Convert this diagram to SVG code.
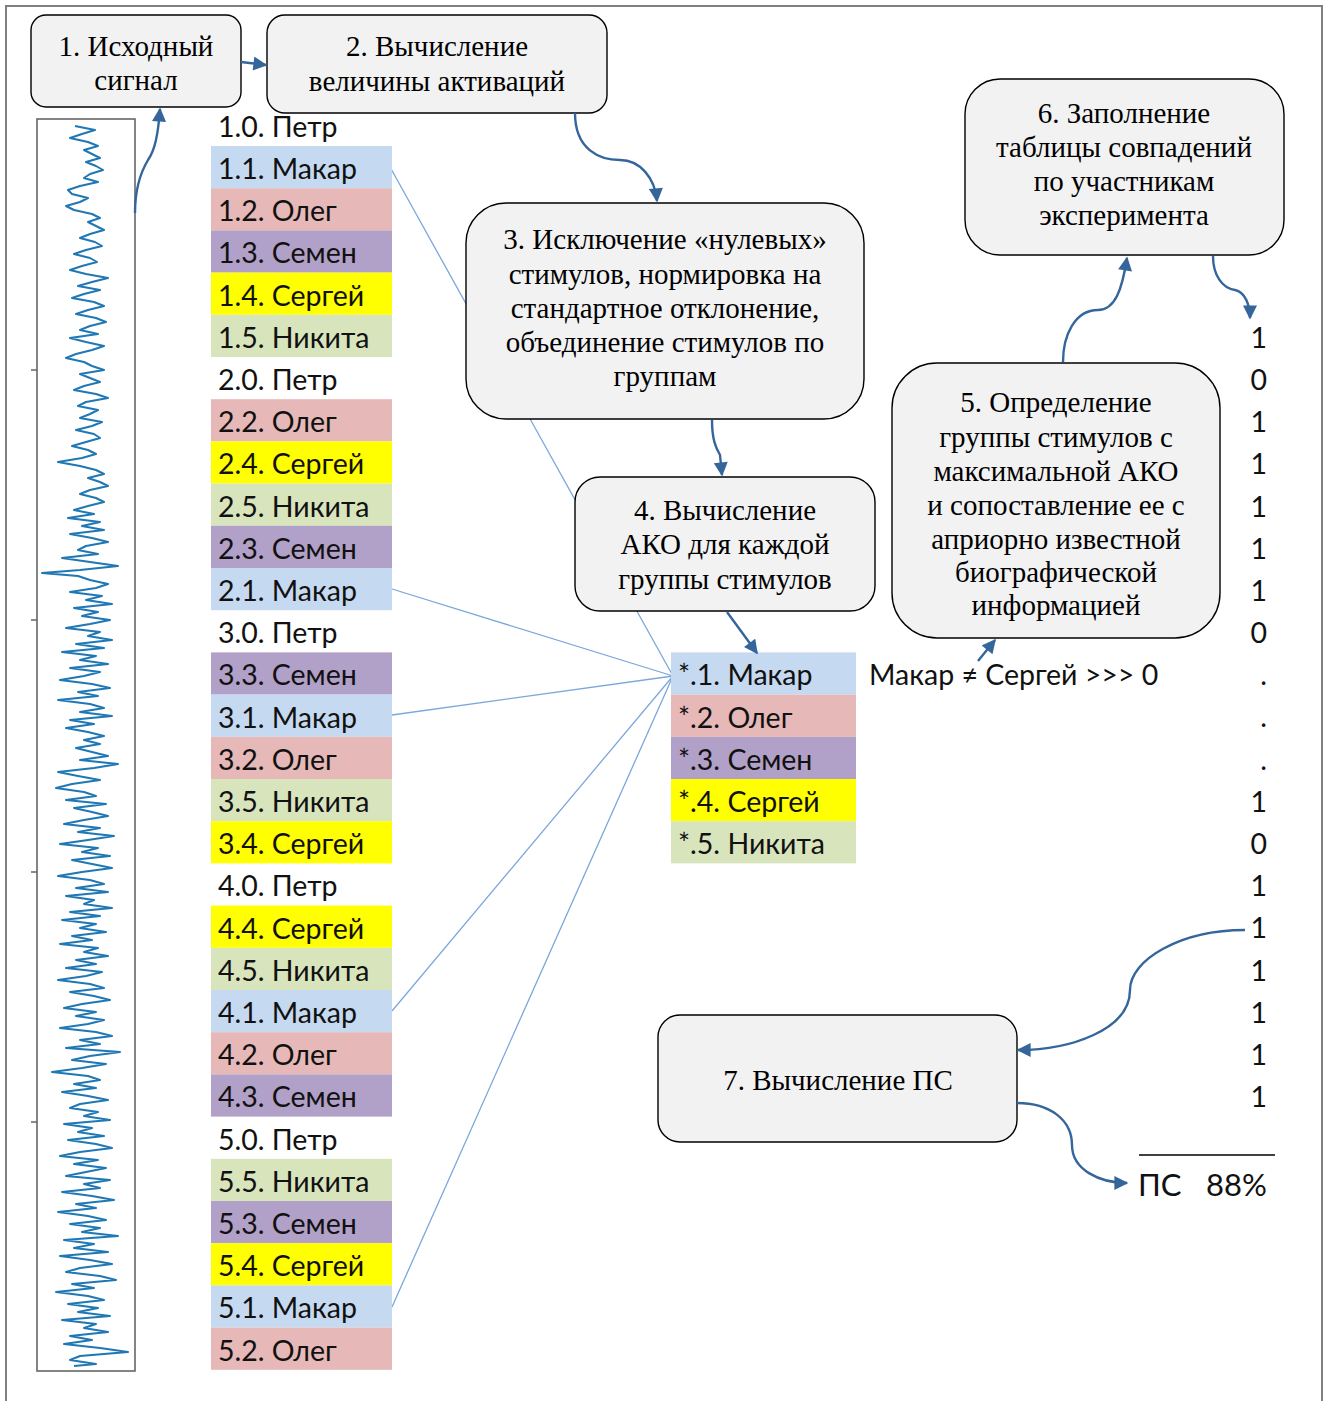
<svg xmlns="http://www.w3.org/2000/svg" width="1330" height="1401" viewBox="0 0 1330 1401">
<style>
.box{fill:#f2f2f2;stroke:#000;stroke-width:1.4}
.bt{font-family:"Liberation Serif","Times New Roman",serif;font-size:29px;fill:#000;text-anchor:middle}
.lt{font-family:Lato,"Open Sans","Noto Sans",sans-serif;font-size:28.5px;fill:#111}
.arr{fill:none;stroke:#34659b;stroke-width:2.4;marker-end:url(#ah)}
.thin{stroke:#7ba7dc;stroke-width:1.3;fill:none}
.mk{fill:#c5d9f1}.ol{fill:#e6b8b7}.se{fill:#b1a0c7}.sg{fill:#ffff00}.ni{fill:#d8e4bc}
</style>
<defs>
<marker id="ah" viewBox="0 0 10 10" refX="9" refY="5" markerUnits="userSpaceOnUse" markerWidth="15" markerHeight="14" orient="auto">
<path d="M0,0 L10,5 L0,10 z" fill="#34659b"/>
</marker>
</defs>
<rect x="0" y="0" width="1330" height="1401" fill="#fff"/>
<path d="M6,1401 V6 H1322 V1401" fill="none" stroke="#808080" stroke-width="2"/>

<g id="signal">
<rect x="37" y="119" width="98" height="1252" fill="none" stroke="#666" stroke-width="1.6"/>
<path d="M31,370 H37 M31,620 H37 M31,872 H37 M31,1122 H37" stroke="#666" stroke-width="1.6"/>
<polyline fill="none" stroke="#1f77b4" stroke-width="2" stroke-linejoin="round" points="75,126 95,130 82,134 70,138 88,142 98,146 84,150 92,154 100,158 86,162 96,166 103,170 90,174 84,178 98,182 80,186 68,190 72,194 88,198 80,202 66,206 74,210 92,214 100,218 88,222 96,226 104,230 90,234 80,238 95,242 102,246 86,250 74,254 90,258 97,262 82,266 70,270 86,274 108,278 92,282 78,286 100,290 84,294 72,298 94,302 104,306 88,310 76,314 96,318 106,322 90,326 80,330 98,334 70,338 86,342 104,346 92,350 76,354 66,358 84,362 92,366 104,370 80,374 90,378 100,382 84,386 74,390 96,394 108,398 86,402 78,406 98,410 90,414 80,418 102,422 92,426 76,430 94,434 100,438 86,442 72,446 88,450 96,454 82,458 58,462 80,466 96,470 104,474 88,478 100,482 108,486 90,490 80,494 96,498 104,502 88,506 74,510 94,514 68,518 100,522 82,526 104,530 70,534 92,538 108,542 86,546 78,550 98,554 62,558 90,562 118,566 80,570 42,573 78,576 90,580 108,584 96,588 70,592 102,596 86,600 112,604 74,608 98,612 82,616 110,620 90,624 66,628 100,632 88,636 112,640 76,644 104,648 62,652 96,656 80,660 108,664 70,668 100,672 84,676 60,680 92,684 110,688 78,692 98,696 58,700 90,704 104,708 80,712 112,716 70,720 94,724 66,728 88,732 104,736 84,740 100,744 76,748 92,752 108,756 80,760 118,764 94,768 58,772 78,776 100,780 72,784 56,788 84,792 96,796 66,800 106,804 74,808 92,812 108,816 84,820 64,824 100,828 78,832 114,836 88,840 60,844 98,848 82,852 110,856 72,860 92,864 112,868 82,872 58,876 90,880 104,884 76,888 108,892 66,896 94,900 84,904 112,908 70,912 100,916 62,920 96,924 80,928 106,932 72,936 92,940 60,944 98,948 84,952 108,956 76,960 96,964 66,968 102,972 86,976 58,980 90,984 104,988 70,992 94,996 110,1000 82,1004 64,1008 96,1012 76,1016 104,1020 88,1024 60,1028 96,1032 112,1036 80,1040 100,1044 66,1048 120,1052 90,1056 72,1060 106,1064 82,1068 52,1072 88,1076 100,1080 74,1084 96,1088 62,1092 88,1096 108,1100 80,1104 70,1108 98,1112 84,1116 110,1120 64,1124 92,1128 78,1132 104,1136 68,1140 96,1144 112,1148 80,1152 60,1156 98,1160 74,1164 106,1168 86,1172 66,1176 110,1180 84,1184 100,1188 62,1192 92,1196 114,1200 76,1204 96,1208 58,1212 88,1216 106,1220 70,1224 100,1228 82,1232 118,1236 64,1240 94,1244 74,1248 108,1252 60,1256 90,1260 112,1264 80,1268 66,1272 100,1276 116,1280 72,1284 94,1288 56,1292 88,1296 104,1300 68,1304 98,1308 78,1312 110,1316 62,1320 96,1324 84,1328 108,1332 70,1336 92,1340 64,1344 100,1348 128,1352 80,1356 70,1360 96,1364 74,1366"/>
</g>

<g id="connectors-thin">
<path class="thin" d="M390,167 L673,676 M392,589 L673,676 M392,715 L673,676 M392,1011 L673,676 M392,1307 L673,676"/>
</g>

<g id="list">
<text class="lt" x="218" y="137">1.0. Петр</text>
<rect class="mk" x="211" y="146" width="181" height="42.2"/><text class="lt" x="218" y="179">1.1. Макар</text>
<rect class="ol" x="211" y="188.2" width="181" height="42.2"/><text class="lt" x="218" y="221.2">1.2. Олег</text>
<rect class="se" x="211" y="230.4" width="181" height="42.2"/><text class="lt" x="218" y="263.4">1.3. Семен</text>
<rect class="sg" x="211" y="272.6" width="181" height="42.2"/><text class="lt" x="218" y="305.6">1.4. Сергей</text>
<rect class="ni" x="211" y="314.8" width="181" height="42.2"/><text class="lt" x="218" y="347.8">1.5. Никита</text>
<text class="lt" x="218" y="390">2.0. Петр</text>
<rect class="ol" x="211" y="399.2" width="181" height="42.2"/><text class="lt" x="218" y="432.2">2.2. Олег</text>
<rect class="sg" x="211" y="441.4" width="181" height="42.2"/><text class="lt" x="218" y="474.4">2.4. Сергей</text>
<rect class="ni" x="211" y="483.6" width="181" height="42.2"/><text class="lt" x="218" y="516.6">2.5. Никита</text>
<rect class="se" x="211" y="525.8" width="181" height="42.2"/><text class="lt" x="218" y="558.8">2.3. Семен</text>
<rect class="mk" x="211" y="568" width="181" height="42.2"/><text class="lt" x="218" y="601">2.1. Макар</text>
<text class="lt" x="218" y="643.2">3.0. Петр</text>
<rect class="se" x="211" y="652.4" width="181" height="42.2"/><text class="lt" x="218" y="685.4">3.3. Семен</text>
<rect class="mk" x="211" y="694.6" width="181" height="42.2"/><text class="lt" x="218" y="727.6">3.1. Макар</text>
<rect class="ol" x="211" y="736.8" width="181" height="42.2"/><text class="lt" x="218" y="769.8">3.2. Олег</text>
<rect class="ni" x="211" y="779" width="181" height="42.2"/><text class="lt" x="218" y="812">3.5. Никита</text>
<rect class="sg" x="211" y="821.2" width="181" height="42.2"/><text class="lt" x="218" y="854.2">3.4. Сергей</text>
<text class="lt" x="218" y="896.4">4.0. Петр</text>
<rect class="sg" x="211" y="905.6" width="181" height="42.2"/><text class="lt" x="218" y="938.6">4.4. Сергей</text>
<rect class="ni" x="211" y="947.8" width="181" height="42.2"/><text class="lt" x="218" y="980.8">4.5. Никита</text>
<rect class="mk" x="211" y="990" width="181" height="42.2"/><text class="lt" x="218" y="1023">4.1. Макар</text>
<rect class="ol" x="211" y="1032.2" width="181" height="42.2"/><text class="lt" x="218" y="1065.2">4.2. Олег</text>
<rect class="se" x="211" y="1074.4" width="181" height="42.2"/><text class="lt" x="218" y="1107.4">4.3. Семен</text>
<text class="lt" x="218" y="1149.6">5.0. Петр</text>
<rect class="ni" x="211" y="1158.8" width="181" height="42.2"/><text class="lt" x="218" y="1191.8">5.5. Никита</text>
<rect class="se" x="211" y="1201" width="181" height="42.2"/><text class="lt" x="218" y="1234">5.3. Семен</text>
<rect class="sg" x="211" y="1243.2" width="181" height="42.2"/><text class="lt" x="218" y="1276.2">5.4. Сергей</text>
<rect class="mk" x="211" y="1285.4" width="181" height="42.2"/><text class="lt" x="218" y="1318.4">5.1. Макар</text>
<rect class="ol" x="211" y="1327.6" width="181" height="42.2"/><text class="lt" x="218" y="1360.6">5.2. Олег</text>
</g>

<g id="star-list">
<rect class="mk" x="671" y="652.4" width="185" height="42.2"/><text class="lt" x="678" y="685.4">*.1. Макар</text>
<rect class="ol" x="671" y="694.6" width="185" height="42.2"/><text class="lt" x="678" y="727.6">*.2. Олег</text>
<rect class="se" x="671" y="736.8" width="185" height="42.2"/><text class="lt" x="678" y="769.8">*.3. Семен</text>
<rect class="sg" x="671" y="779" width="185" height="42.2"/><text class="lt" x="678" y="812">*.4. Сергей</text>
<rect class="ni" x="671" y="821.2" width="185" height="42.2"/><text class="lt" x="678" y="854.2">*.5. Никита</text>
</g>

<g id="compare-label">
<text class="lt" x="869" y="685">Макар ≠ Сергей &gt;&gt;&gt; 0</text>
</g>

<g id="column">
<text class="lt" x="1267" y="348" text-anchor="end">1</text>
<text class="lt" x="1267" y="390" text-anchor="end">0</text>
<text class="lt" x="1267" y="432" text-anchor="end">1</text>
<text class="lt" x="1267" y="474" text-anchor="end">1</text>
<text class="lt" x="1267" y="517" text-anchor="end">1</text>
<text class="lt" x="1267" y="559" text-anchor="end">1</text>
<text class="lt" x="1267" y="601" text-anchor="end">1</text>
<text class="lt" x="1267" y="643" text-anchor="end">0</text>
<text class="lt" x="1267" y="685" text-anchor="end">.</text>
<text class="lt" x="1267" y="727" text-anchor="end">.</text>
<text class="lt" x="1267" y="770" text-anchor="end">.</text>
<text class="lt" x="1267" y="812" text-anchor="end">1</text>
<text class="lt" x="1267" y="854" text-anchor="end">0</text>
<text class="lt" x="1267" y="896" text-anchor="end">1</text>
<text class="lt" x="1267" y="938" text-anchor="end">1</text>
<text class="lt" x="1267" y="981" text-anchor="end">1</text>
<text class="lt" x="1267" y="1023" text-anchor="end">1</text>
<text class="lt" x="1267" y="1065" text-anchor="end">1</text>
<text class="lt" x="1267" y="1107" text-anchor="end">1</text>
</g>

<g id="result">
<path d="M1139,1155 H1275" stroke="#000" stroke-width="1.6"/>
<text class="lt" x="1138" y="1196" style="font-size:31px">ПС</text>
<text class="lt" x="1206" y="1196" style="font-size:31px">88%</text>
</g>

<g id="node1">
<rect class="box" x="31" y="15" width="210" height="92" rx="15"/>
<text class="bt" x="136" y="56">1. Исходный</text>
<text class="bt" x="136" y="90">сигнал</text>
</g>
<g id="node2">
<rect class="box" x="267" y="15" width="340" height="98" rx="18"/>
<text class="bt" x="437" y="56">2. Вычисление</text>
<text class="bt" x="437" y="91">величины активаций</text>
</g>
<g id="node3">
<rect class="box" x="466" y="203" width="398" height="216" rx="40"/>
<text class="bt" x="665" y="249">3. Исключение «нулевых»</text>
<text class="bt" x="665" y="284">стимулов, нормировка на</text>
<text class="bt" x="665" y="318">стандартное отклонение,</text>
<text class="bt" x="665" y="352">объединение стимулов по</text>
<text class="bt" x="665" y="386">группам</text>
</g>
<g id="node4">
<rect class="box" x="575" y="477" width="300" height="134" rx="25"/>
<text class="bt" x="725" y="520">4. Вычисление</text>
<text class="bt" x="725" y="554">АКО для каждой</text>
<text class="bt" x="725" y="589">группы стимулов</text>
</g>
<g id="node5">
<rect class="box" x="892" y="363" width="328" height="275" rx="45"/>
<text class="bt" x="1056" y="412">5. Определение</text>
<text class="bt" x="1056" y="447">группы стимулов с</text>
<text class="bt" x="1056" y="481">максимальной АКО</text>
<text class="bt" x="1056" y="515">и сопоставление ее с</text>
<text class="bt" x="1056" y="549">априорно известной</text>
<text class="bt" x="1056" y="582">биографической</text>
<text class="bt" x="1056" y="615">информацией</text>
</g>
<g id="node6">
<rect class="box" x="965" y="79" width="319" height="176" rx="35"/>
<text class="bt" x="1124" y="123">6. Заполнение</text>
<text class="bt" x="1124" y="157">таблицы совпадений</text>
<text class="bt" x="1124" y="191">по участникам</text>
<text class="bt" x="1124" y="225">эксперимента</text>
</g>
<g id="node7">
<rect class="box" x="658" y="1015" width="359" height="127" rx="22"/>
<text class="bt" x="838" y="1090">7. Вычисление ПС</text>
</g>

<g id="connectors">
<path class="arr" d="M135,213 C135,185 142,170 148,160 C155,150 158,135 160,109"/>
<path class="arr" d="M241,62 L266,65"/>
<path class="arr" d="M575,113 C575,150 600,160 620,160 C640,160 655,178 657,201"/>
<path class="arr" d="M712,420 C712,440 716,448 720,455 L722,475"/>
<path class="arr" d="M727,612 L757,653"/>
<path class="arr" d="M978,661 L995,640"/>
<path class="arr" d="M1063,362 C1063,335 1075,310 1098,310 C1115,310 1122,290 1127,258"/>
<path class="arr" d="M1213,256 C1213,275 1222,288 1235,290 C1245,292 1250,305 1250,318"/>
<path class="arr" d="M1245,930 C1180,930 1130,960 1130,990 C1130,1030 1070,1050 1018,1050"/>
<path class="arr" d="M1017,1103 C1050,1103 1072,1120 1072,1145 C1072,1170 1100,1183 1127,1183"/>
</g>
</svg>
